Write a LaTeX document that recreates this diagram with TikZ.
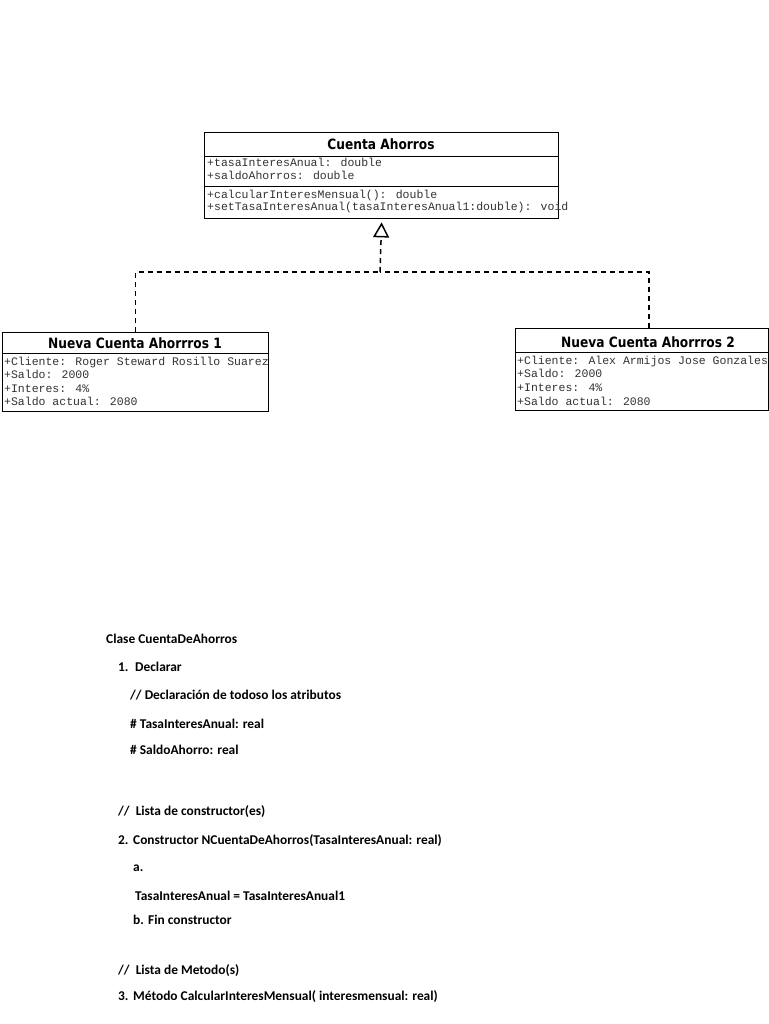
\documentclass[tikz,border=0pt]{standalone}
\usepackage{fontspec}
\setmainfont{Carlito}
\newfontfamily\umlmono{Liberation Mono}
\newfontfamily\umltitle[FakeStretch=0.86]{DejaVu Sans}
\usetikzlibrary{arrows.meta}
\begin{document}
\begin{tikzpicture}[x=1pt,y=-1pt,
  umlbox/.style={draw, line width=1.4pt, inner sep=0pt, anchor=north west},
  divline/.style={line width=1pt},
  umltitletext/.style={font=\umltitle\bfseries\fontsize{14.2}{16}\selectfont, inner sep=0pt},
  attr/.style={font=\umlmono\fontsize{11.5}{13}\selectfont, text=black!80, inner sep=0pt, anchor=mid west},
  body/.style={font=\bfseries\fontsize{13.4}{15}\selectfont, inner sep=0pt, anchor=mid west},
  dep/.style={dash pattern=on 5pt off 4pt, line width=1.5pt}
]
\useasboundingbox (0,0) rectangle (768,1024);
\fill[white] (0,0) rectangle (768,1024);

% Cuenta Ahorros
\node[umlbox, minimum width=354pt, minimum height=86pt] (ca) at (204,132) {};
\draw[divline] (204,157) -- (558,157);
\draw[divline] (204,187) -- (558,187);
\node[umltitletext] (cat) at (381,144) {Cuenta Ahorros};
\node[attr] (ca1) at (207,164) {+tasaInteresAnual: double};
\node[attr] (ca2) at (207,177) {+saldoAhorros: double};
\node[attr] (ca3) at (207,196) {+calcularInteresMensual(): double};
\node[attr] (ca4) at (207,208) {+setTasaInteresAnual(tasaInteresAnual1:double): void};

% Nueva Cuenta Ahorrros 1
\node[umlbox, minimum width=266pt, minimum height=79pt] (n1) at (2,332) {};
\draw[divline] (2,353) -- (268,353);
\node[umltitletext] (n1t) at (135,343) {Nueva Cuenta Ahorrros 1};
\node[attr] (n1a) at (4,363) {+Cliente: Roger Steward Rosillo Suarez};
\node[attr] (n1b) at (4,376) {+Saldo: 2000};
\node[attr] (n1c) at (4,390) {+Interes: 4\%};
\node[attr] (n1d) at (4,403) {+Saldo actual: 2080};

% Nueva Cuenta Ahorrros 2
\node[umlbox, minimum width=253pt, minimum height=82pt] (n2) at (515,328) {};
\draw[divline] (515,352) -- (768,352);
\node[umltitletext] (n2t) at (648,342) {Nueva Cuenta Ahorrros 2};
\node[attr] (n2a) at (517,362) {+Cliente: Alex Armijos Jose Gonzales};
\node[attr] (n2b) at (517,375) {+Saldo: 2000};
\node[attr] (n2c) at (517,389) {+Interes: 4\%};
\node[attr] (n2d) at (517,403) {+Saldo actual: 2080};

% realization connectors
\coordinate (n2top) at (649,328);
\coordinate (jn) at (380,272);
\draw[dep] (n1.north) |- (jn);
\draw[dep] (n2top) |- (jn);
\draw[dep, -{Triangle[open, width=16pt, length=15pt, line width=1.5pt]}, shorten >=3pt] (jn) -- (ca.south);

% pseudocode
\node[body] (p1) at (106,641) {Clase CuentaDeAhorros};
\node[body] (p2) at (118,669) {\makebox[17pt][l]{1.}Declarar};
\node[body] (p3) at (130,697) {// Declaración de todoso los atributos};
\node[body] (p4) at (130,726) {\# TasaInteresAnual: real};
\node[body] (p5) at (130,752) {\# SaldoAhorro: real};
\node[body] (p6) at (118,813) {//\ \ Lista de constructor(es)};
\node[body] (p7) at (118,842) {\makebox[15pt][l]{2.}Constructor NCuentaDeAhorros(TasaInteresAnual: real)};
\node[body] (p8) at (133,869) {a.};
\node[body] (p9) at (135,898) {TasaInteresAnual = TasaInteresAnual1};
\node[body] (p10) at (133,922) {\makebox[15pt][l]{b.}Fin constructor};
\node[body] (p11) at (118,972) {//\ \ Lista de Metodo(s)};
\node[body] (p12) at (118,998) {\makebox[15pt][l]{3.}Método CalcularInteresMensual( interesmensual: real)};
\end{tikzpicture}
\end{document}
